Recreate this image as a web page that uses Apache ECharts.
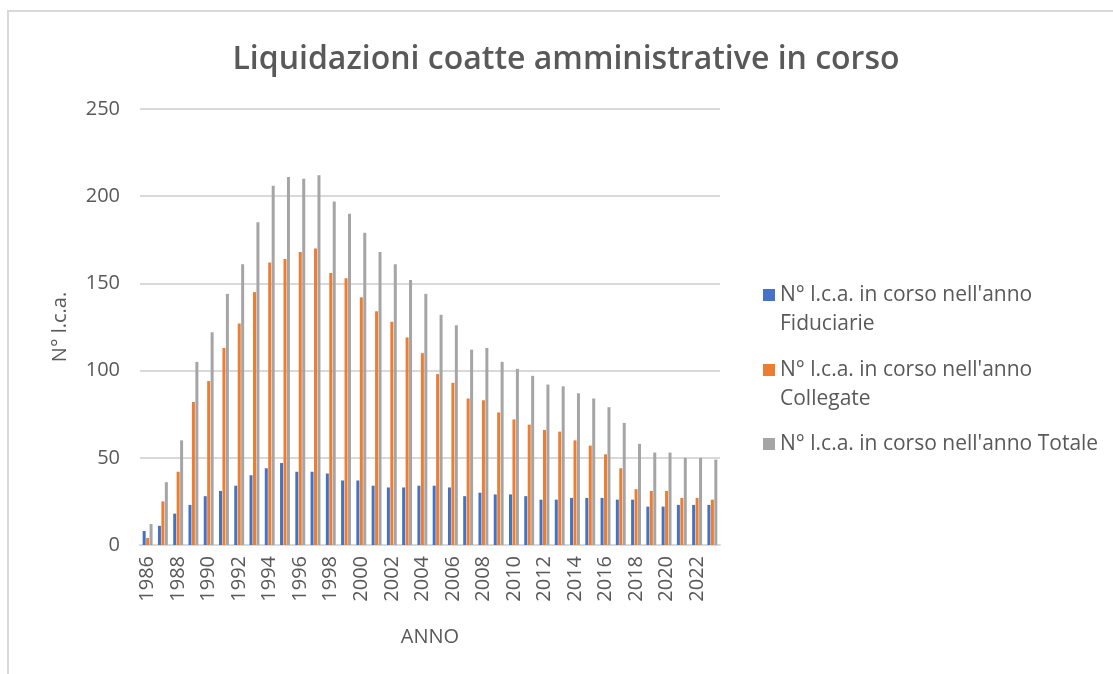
<!DOCTYPE html>
<html>
<head>
<meta charset="utf-8">
<script src="https://cdn.jsdelivr.net/npm/echarts@6/dist/echarts.min.js"></script>
<style>
  html, body { margin: 0; padding: 0; background: #fff; }
  #frame {
    position: absolute; left: 7px; top: 10px; width: 1110px; height: 670px;
    border-left: 2px solid #d9d9d9; border-top: 2px solid #d9d9d9;
  }
  #chart { position: absolute; left: 0; top: 0; width: 1113px; height: 674px; }
</style>
</head>
<body>
<div id="frame"></div>
<div id="chart"></div>
<script>
// dati
const anni = ["1986","1987","1988","1989","1990","1991","1992","1993","1994","1995",
  "1996","1997","1998","1999","2000","2001","2002","2003","2004","2005",
  "2006","2007","2008","2009","2010","2011","2012","2013","2014","2015",
  "2016","2017","2018","2019","2020","2021","2022","2023"];
const fiduciarie = [8,11,18,23,28,31,34,40,44,47,42,42,41,37,37,34,33,33,34,34,
  33,28,30,29,29,28,26,26,27,27,27,26,26,22,22,23,23,23];
const collegate = [4,25,42,82,94,113,127,145,162,164,168,170,156,153,142,134,128,119,110,98,
  93,84,83,76,72,69,66,65,60,57,52,44,32,31,31,27,27,26];
const totale = [12,36,60,105,122,144,161,185,206,211,210,212,197,190,179,168,161,152,144,132,
  126,112,113,105,101,97,92,91,87,84,79,70,58,53,53,50,50,49];

const nomi = [
  "N° l.c.a. in corso nell'anno Fiduciarie",
  "N° l.c.a. in corso nell'anno Collegate",
  "N° l.c.a. in corso nell'anno Totale"
];
const colori = ["#4472c4", "#ed7d31", "#a5a5a5"];
const valori = [fiduciarie, collegate, totale];

const testo = "#595959";
const font = "'Open Sans', sans-serif";
const lineH = 29;

// una legenda per voce; riga vuota sopra per allineare il quadratino alla prima riga
const legendTops = [251.5, 326.5, 429.5];
const legend = nomi.map((n, i) => ({
  data: [n],
  left: 763,
  top: legendTops[i],
  orient: "vertical",
  padding: 0,
  itemWidth: 12,
  itemHeight: 12,
  icon: "rect",
  formatter: (name) => {
    if (name.endsWith("Totale")) return name;
    return "\u00a0\n" + name.replace("nell'anno ", "nell'anno\n");
  },
  textStyle: {
    color: testo,
    fontFamily: font,
    fontSize: 21,
    lineHeight: lineH
  }
}));

const chart = echarts.init(document.getElementById("chart"));
chart.setOption({
  animation: false,
  title: {
    text: "Liquidazioni coatte amministrative in corso",
    left: 561,
    top: 39,
    textAlign: "center",
    textStyle: { color: testo, fontFamily: font, fontWeight: 600, fontSize: 32 }
  },
  legend: legend,
  grid: { left: 140, right: 393, top: 109, bottom: 129, containLabel: false },
  xAxis: {
    type: "category",
    data: anni,
    name: "ANNO",
    nameLocation: "middle",
    nameGap: 82,
    nameTextStyle: { color: testo, fontFamily: font, fontSize: 20 },
    axisLine: { lineStyle: { color: "#d9d9d9", width: 2 } },
    axisTick: { show: false },
    axisLabel: {
      interval: 1,
      rotate: 90,
      margin: 11,
      color: testo,
      fontFamily: font,
      fontSize: 20
    }
  },
  yAxis: {
    type: "value",
    min: 0,
    max: 250,
    interval: 50,
    name: "N° l.c.a.",
    nameLocation: "middle",
    nameGap: 70,
    nameRotate: 90,
    nameTextStyle: { color: testo, fontFamily: font, fontSize: 20 },
    axisLine: { show: false },
    axisTick: { show: false },
    axisLabel: { margin: 20, color: testo, fontFamily: font, fontSize: 20 },
    splitLine: { lineStyle: { color: "#d9d9d9", width: 2 } }
  },
  series: nomi.map((n, i) => ({
    name: n,
    type: "bar",
    data: valori[i],
    barWidth: 3,
    barGap: "15%",
    itemStyle: { color: colori[i] }
  }))
});
</script>
</body>
</html>
